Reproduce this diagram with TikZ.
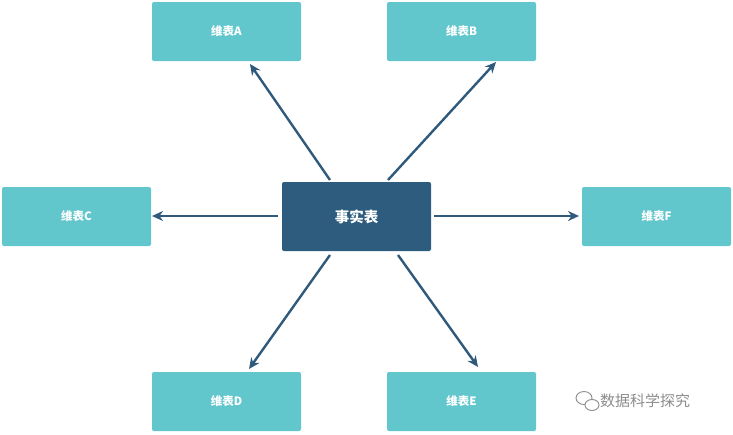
\documentclass[tikz,border=0pt]{standalone}
\usepackage{fontspec}
\setmainfont{Noto Sans CJK SC}
\usetikzlibrary{arrows.meta}
\definecolor{dim}{HTML}{62C6CD}
\definecolor{fact}{HTML}{2E5C7E}
\definecolor{arr}{HTML}{2F5A7C}
\tikzset{
  dimbox/.style={fill=dim,rounded corners=2pt,minimum width=149pt,minimum height=59pt,text=white,font=\fontsize{11.5}{13}\selectfont\bfseries,inner sep=0pt},
  factbox/.style={fill=fact,rounded corners=2pt,minimum width=149pt,minimum height=69pt,text=white,font=\fontsize{14.5}{16}\selectfont\bfseries,inner sep=0pt},
  link/.style={draw=arr,line width=2.4pt,-{Stealth[length=11pt,width=10pt]}}
}
\begin{document}
\begin{tikzpicture}[x=1pt,y=-1pt]
\useasboundingbox (0,0) rectangle (733,434);
\node[factbox] (ctr) at (356.5,216.5) {事实表};
\node[dimbox] (A) at (226.5,31.5) {维表A};
\node[dimbox] (B) at (461.5,31.5) {维表B};
\node[dimbox] (C) at (76.5,216.5) {维表C};
\node[dimbox] (F) at (656.5,216.5) {维表F};
\node[dimbox] (D) at (226.5,401.5) {维表D};
\node[dimbox] (E) at (461.5,401.5) {维表E};
\coordinate (sA) at (330,180); \coordinate (eA) at (250,64);
\coordinate (sB) at (388,180); \coordinate (eB) at (496,62);
\coordinate (sC) at (278,216); \coordinate (eC) at (152,216);
\coordinate (sF) at (434,216); \coordinate (eF) at (579,216);
\coordinate (sD) at (330,255); \coordinate (eD) at (249,369);
\coordinate (sE) at (398,255); \coordinate (eE) at (478,367);
\foreach \s/\e in {sA/eA,sB/eB,sC/eC,sF/eF,sD/eD,sE/eE} \draw[link] (\s) -- (\e);
\node[text=gray!90,font=\fontsize{15}{17}\selectfont,anchor=west,inner sep=0pt] (wm) at (600,401) {数据科学探究};
\draw[gray!90,line width=0.9pt] (584,398) ellipse (8pt and 6.5pt);
\draw[gray!90,line width=0.9pt,fill=white] (592,405) ellipse (7pt and 5.5pt);
\end{tikzpicture}
\end{document}
